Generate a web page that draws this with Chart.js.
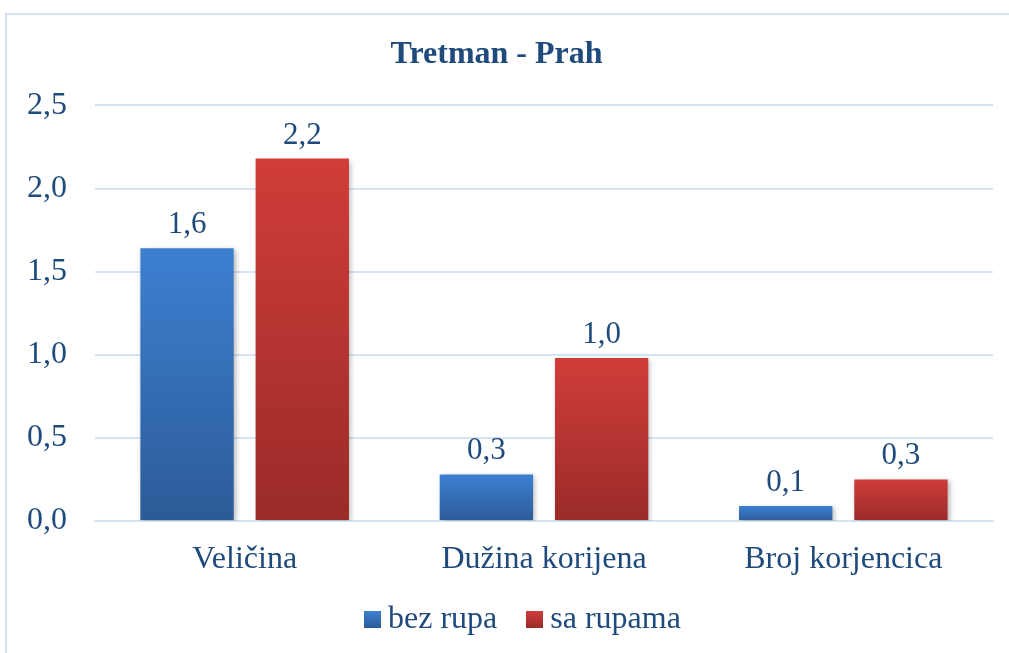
<!DOCTYPE html>
<html>
<head>
<meta charset="utf-8">
<script src="https://cdn.jsdelivr.net/npm/chart.js@4.4.0/dist/chart.umd.min.js"></script>
<style>
  html, body { margin: 0; padding: 0; background: #fff; }
  #wrap { position: relative; width: 1009px; height: 653px; overflow: hidden; }
  #legenda {
    position: absolute; left: 364px; top: 599px;
    display: flex; align-items: center;
    font-family: 'Liberation Serif', 'Times New Roman', serif;
    font-size: 32px; line-height: 36px; color: #1f4a7c; white-space: nowrap;
  }
  #legenda .stavka { display: flex; align-items: center; margin-right: 29px; }
  #legenda .kvadrat { width: 17px; height: 17px; margin-right: 7px; margin-top: 4px; }
</style>
</head>
<body>
<div id="wrap">
  <canvas id="grafik" width="1009" height="653"></canvas>
  <div id="legenda"></div>
</div>
<script>
// podaci sa grafika
const kategorije = ["Veličina", "Dužina korijena", "Broj korjencica"];
const bezRupa = [1.64, 0.28, 0.09];
const saRupama = [2.18, 0.98, 0.25];
const nazivi = ["bez rupa", "sa rupama"];

const tekstBoja = "#1f4a7c";
const font = "'Liberation Serif', 'Times New Roman', serif";
const bojeGore = ["#3d80d2", "#d03d3a"];
const bojeDole = ["#2c5b97", "#9a2b28"];

const zarez = (v) => v.toFixed(1).replace(".", ",");

// gradijent po stubu (od vrha do dna stuba)
const gradijent = (gore, dole) => (ctx) => {
  const chart = ctx.chart;
  const y = chart.scales.y;
  if (!y || ctx.raw === undefined) return gore;
  const top = y.getPixelForValue(ctx.raw);
  const bottom = y.getPixelForValue(0);
  if (!isFinite(top) || !isFinite(bottom) || top === bottom) return gore;
  const g = chart.ctx.createLinearGradient(0, top, 0, bottom);
  g.addColorStop(0, gore);
  g.addColorStop(1, dole);
  return g;
};

const okvir = {
  id: "okvir",
  beforeDraw(chart) {
    const c = chart.ctx;
    c.save();
    c.strokeStyle = "#d6e3f4";
    c.lineWidth = 2;
    c.beginPath();
    c.moveTo(6, 660);
    c.lineTo(6, 14);
    c.lineTo(1015, 14);
    c.stroke();
    c.restore();
  },
  beforeDatasetsDraw(chart) {
    const c = chart.ctx;
    c.save();
    c.shadowColor = "rgba(0,0,0,0.28)";
    c.shadowBlur = 5;
    c.shadowOffsetX = 2;
    c.shadowOffsetY = 2;
  },
  afterDatasetsDraw(chart) {
    chart.ctx.restore();
    const c = chart.ctx;
    c.save();
    c.fillStyle = tekstBoja;
    c.font = "31px " + font;
    c.textAlign = "center";
    c.textBaseline = "alphabetic";
    chart.data.datasets.forEach((ds, i) => {
      chart.getDatasetMeta(i).data.forEach((el, j) => {
        c.fillText(zarez(ds.data[j]), el.x, el.y - 15);
      });
    });
    c.restore();
  }
};

const grafik = new Chart(document.getElementById("grafik"), {
  type: "bar",
  data: {
    labels: kategorije,
    datasets: [
      {
        label: nazivi[0],
        data: bezRupa,
        backgroundColor: gradijent(bojeGore[0], bojeDole[0]),
        categoryPercentage: 0.77,
        barPercentage: 0.81
      },
      {
        label: nazivi[1],
        data: saRupama,
        backgroundColor: gradijent(bojeGore[1], bojeDole[1]),
        categoryPercentage: 0.77,
        barPercentage: 0.81
      }
    ]
  },
  options: {
    responsive: false,
    animation: false,
    layout: { padding: { left: 0, right: 16, top: 36, bottom: 55.6 } },
    plugins: {
      title: {
        display: true,
        text: "Tretman - Prah",
        color: tekstBoja,
        font: { family: font, size: 32, weight: "bold" },
        padding: { top: 0, bottom: 31 }
      },
      legend: { display: false },
      tooltip: { enabled: false }
    },
    scales: {
      x: {
        grid: { display: false, drawTicks: false },
        border: { display: true, color: "#d6e3f4", width: 2 },
        ticks: {
          color: tekstBoja,
          font: { family: font, size: 32 },
          padding: 19
        }
      },
      y: {
        min: 0,
        max: 2.5,
        grid: { color: "#d6e3f4", lineWidth: 2, drawTicks: false },
        border: { display: false },
        ticks: {
          stepSize: 0.5,
          color: tekstBoja,
          font: { family: font, size: 32 },
          padding: 28,
          callback: (v) => zarez(v)
        },
        afterFit(scale) { scale.width = 95; }
      }
    }
  },
  plugins: [okvir]
});

// legenda ispod grafika
const legenda = document.getElementById("legenda");
grafik.data.datasets.forEach((ds, i) => {
  const stavka = document.createElement("span");
  stavka.className = "stavka";
  const kv = document.createElement("span");
  kv.className = "kvadrat";
  kv.style.background = "linear-gradient(" + bojeGore[i] + ", " + bojeDole[i] + ")";
  const txt = document.createElement("span");
  txt.textContent = ds.label;
  stavka.appendChild(kv);
  stavka.appendChild(txt);
  legenda.appendChild(stavka);
});
</script>
</body>
</html>
